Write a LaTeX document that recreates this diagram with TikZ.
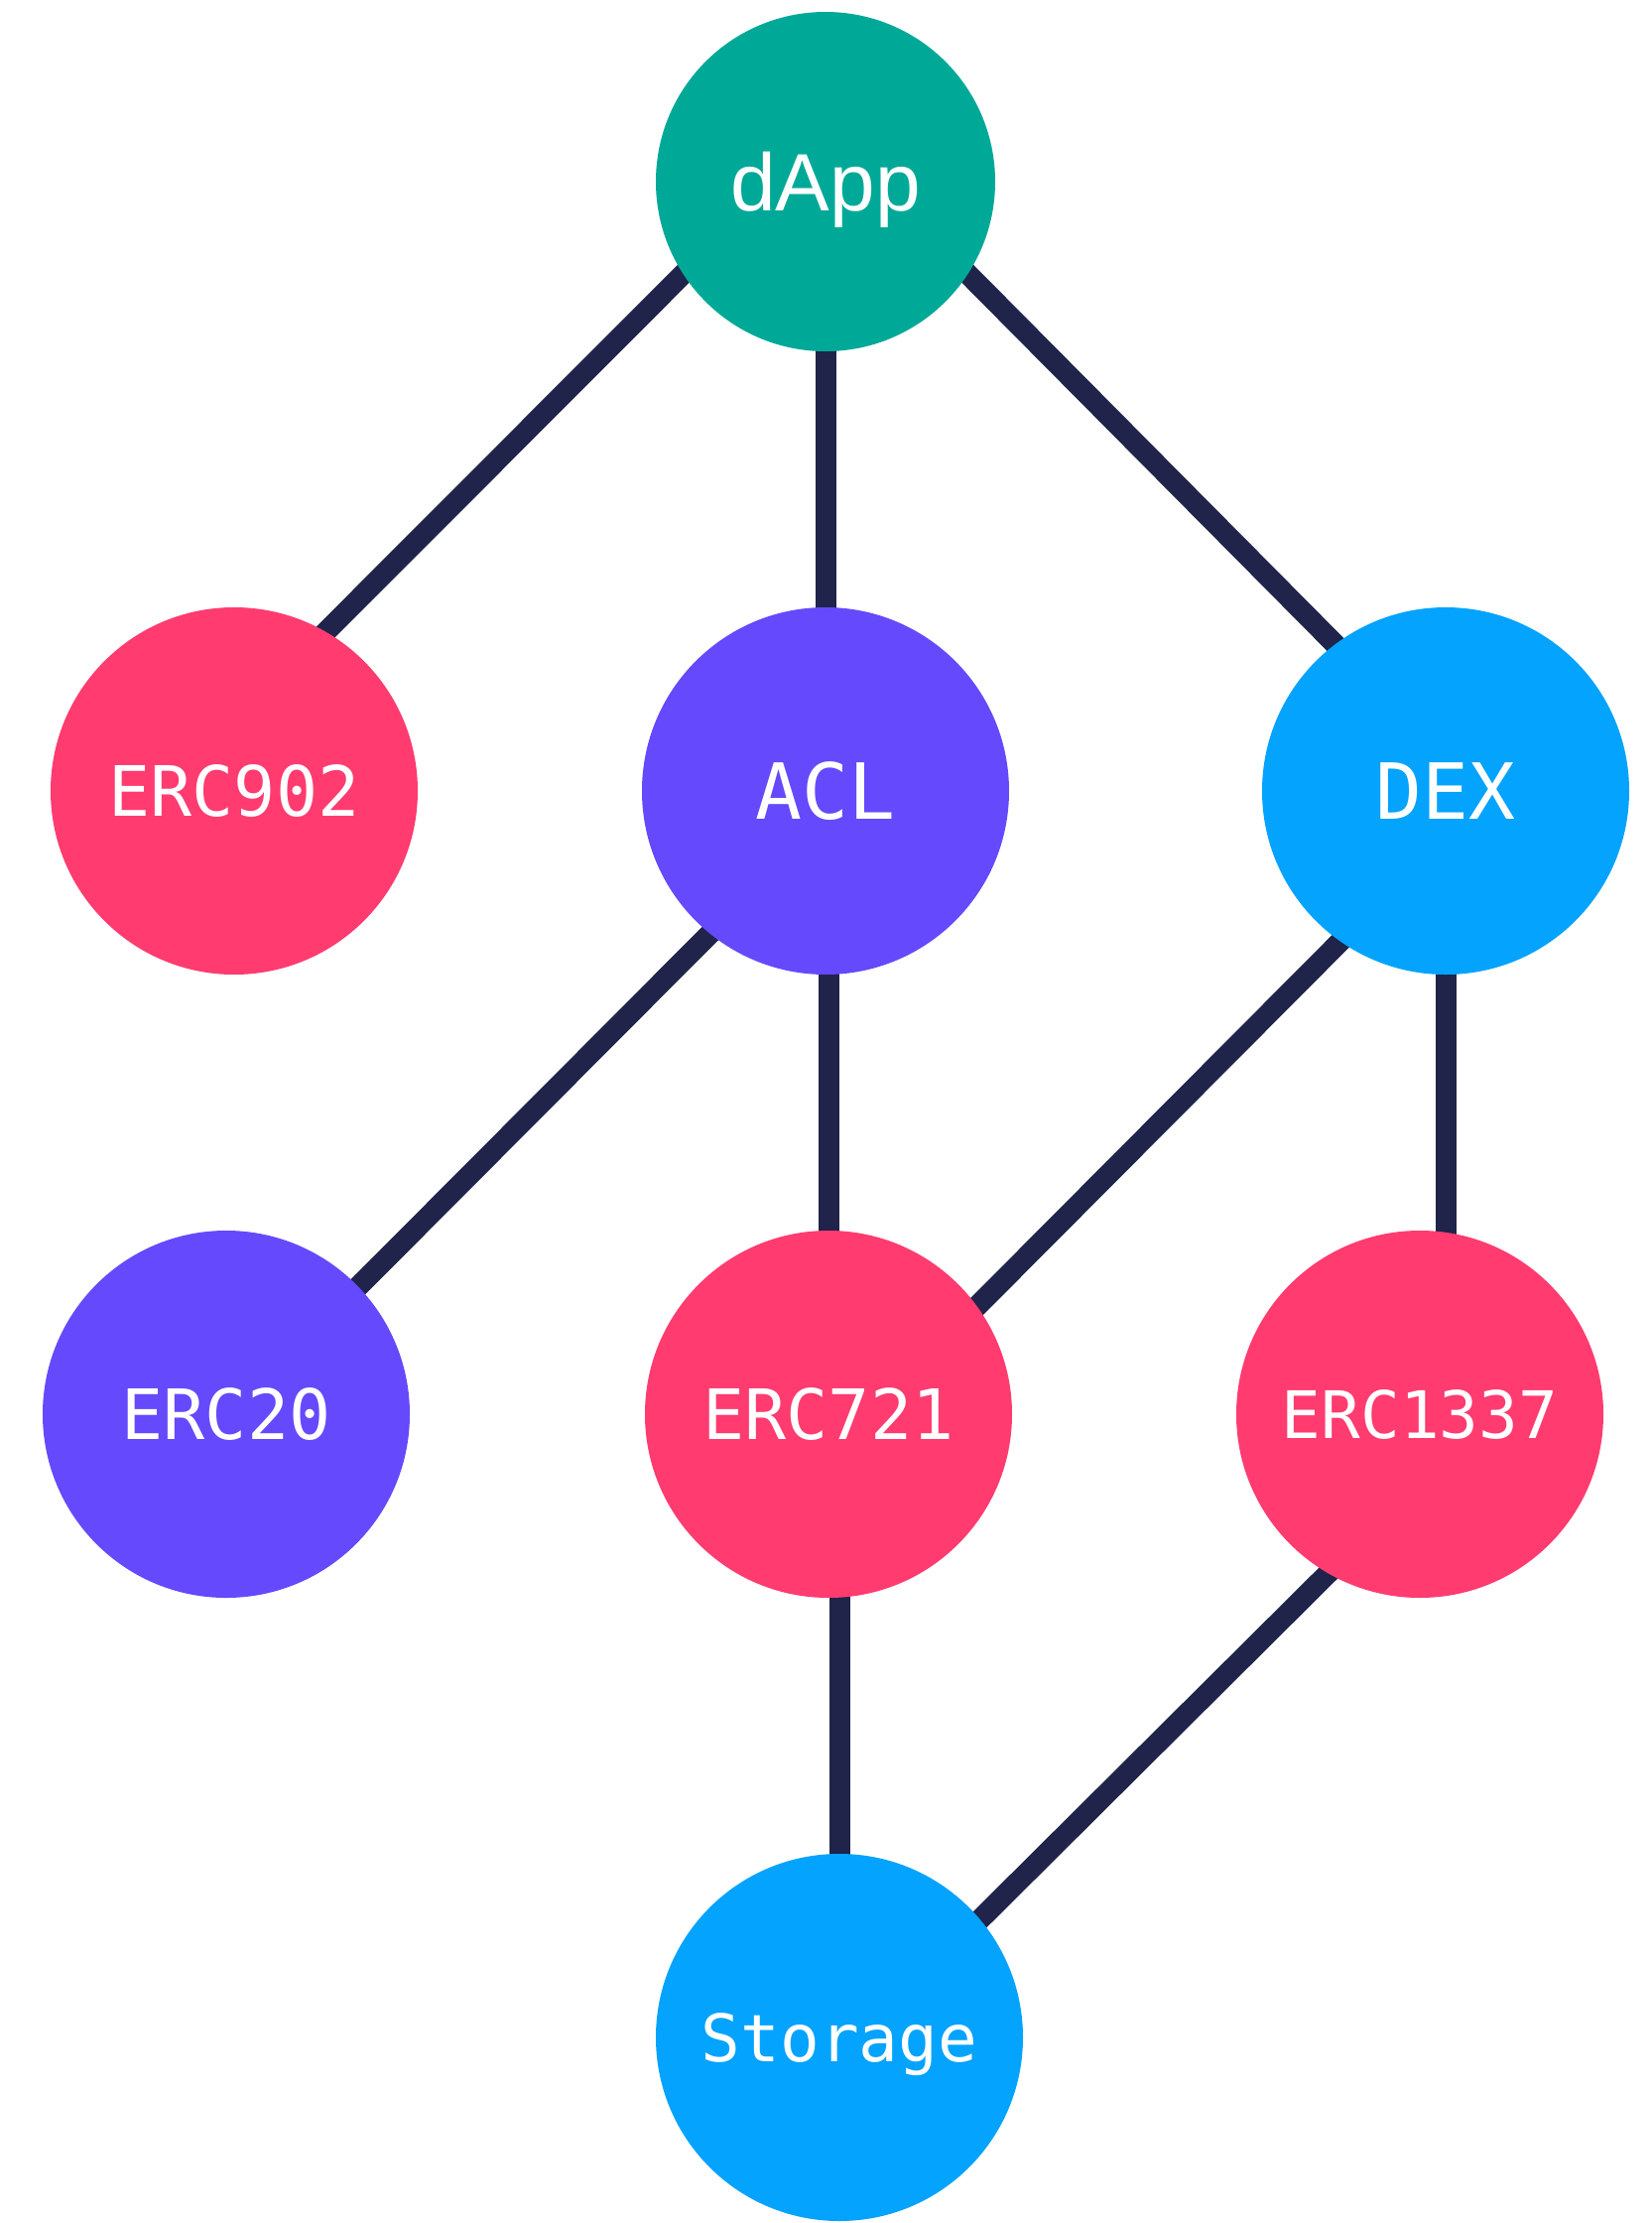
\documentclass[tikz,border=0pt]{standalone}
\usepackage{fontspec}
\setmainfont{Liberation Sans}
\newfontfamily\monofont{DejaVu Sans Mono}
\usetikzlibrary{backgrounds}

\definecolor{dappgreen}{RGB}{0,169,151}
\definecolor{tokenred}{RGB}{255,59,111}
\definecolor{aclpurple}{RGB}{101,73,252}
\definecolor{dexblue}{RGB}{3,163,254}
\definecolor{linknavy}{RGB}{32,35,74}

\tikzset{
  module/.style={circle, minimum size=185pt, inner sep=0pt, text=white, text depth=0pt,
    font=\monofont\fontsize{35pt}{40pt}\selectfont},
  link/.style={draw=linknavy, line width=10.5pt, shorten <=-5pt, shorten >=-5pt},
}

\begin{document}
\begin{tikzpicture}[x=0.5pt, y=-0.5pt]
        % Canvas
        \useasboundingbox (0,0) rectangle (1665,2240);

        % Top: the dApp
        \node[module, fill=dappgreen, minimum size=171pt, font=\fontsize{41pt}{46pt}\selectfont] (dapp) at (832,183) {dApp};

        % Second row
        \node[module, fill=tokenred] (erc902) at (236,797) {ERC902};
        \node[module, fill=aclpurple, font=\monofont\fontsize{39pt}{44pt}\selectfont] (acl) at (832,797) {ACL};
        \node[module, fill=dexblue, font=\monofont\fontsize{39pt}{44pt}\selectfont] (dex) at (1457,797) {DEX};

        % Third row
        \node[module, fill=aclpurple] (erc20) at (228,1425) {ERC20};
        \node[module, fill=tokenred] (erc721) at (835,1425) {ERC721};
        \node[module, fill=tokenred, font=\monofont\fontsize{33pt}{38pt}\selectfont] (erc1337) at (1431,1425) {ERC1337};

        % Bottom: storage
        \node[module, fill=dexblue, font=\monofont\fontsize{33pt}{38pt}\selectfont] (storage) at (846,2053) {Storage};

        % Links behind the circles
        \begin{scope}[on background layer]
        \fill[white] (0,0) rectangle (1665,2240);
        \draw[link] (dapp.213) -- (erc902.60);
        \draw[link] (dapp.south) -- (acl.north);
        \draw[link] (dapp.327) -- (dex.127);
        \draw[link] (acl.231) -- (erc20.44);
        \draw[link] (acl.south -| erc721.north) -- (erc721.north);
        \draw[link] (dex.235) -- (erc721.36);
        \draw[link] (dex.south) -- (dex.south |- erc1337.center);
        \draw[link] (erc721.south -| storage.north) -- (storage.north);
        \draw[link] (erc1337.240) -- (storage.40);
        \end{scope}
      \end{tikzpicture}
\end{document}
